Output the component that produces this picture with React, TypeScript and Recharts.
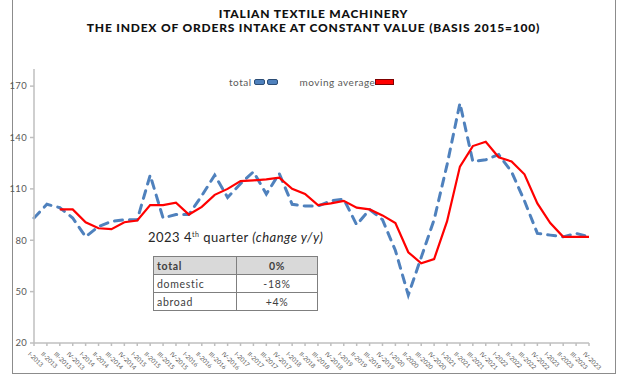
import { Legend, Line, LineChart, XAxis, YAxis } from "recharts";

const quarters = ["I", "II", "III", "IV"];
const years = [2013, 2014, 2015, 2016, 2017, 2018, 2019, 2020, 2021, 2022, 2023];
const categories = years.flatMap((y) => quarters.map((q) => `${q}-${y}`));

const total = [
  93, 101, 99, 93, 82, 88, 91, 92, 92, 118, 93, 95, 95, 106, 118, 105, 113,
  120, 107, 119, 101, 100, 100, 103, 104, 89, 98, 92, 74, 48, 70, 92, 124, 160,
  126, 127, 130, 120, 103, 84, 83, 82, 84, 82,
];

const movingAverage = [
  null, null, 98, 98, 90.5, 87, 86.5, 90.5, 91.5, 100.5, 100.5, 102, 95, 99.5,
  106.5, 110, 114.5, 115, 115.5, 116.5, 110, 107, 100.5, 101.5, 103, 99, 98,
  94.5, 90, 73, 66.5, 69, 91, 123, 135, 137.5, 128.5, 126, 118.5, 101.5, 90, 82,
  82, 82,
];

const yTicks = [20, 50, 80, 110, 140, 170];

const tableRows = [
  { label: "total", value: "0%", head: true },
  { label: "domestic", value: "-18%", head: false },
  { label: "abroad", value: "+4%", head: false },
];

const data = categories.map((name, i) => ({
  name,
  total: total[i],
  avg: movingAverage[i],
}));

const font = "Lato, 'Open Sans', sans-serif";
const gray = "#595959";

const XTick = (props: any) => {
  const { x, y, payload } = props;
  return (
    <g transform={`translate(${x - 3},${y + 3})`}>
      <text
        transform="rotate(45)"
        textAnchor="start"
        dominantBaseline="hanging"
        fontSize={6.2}
        fill={gray}
        fontFamily={font}
      >
        {payload.value}
      </text>
    </g>
  );
};

const swatch = {
  display: "inline-block",
  width: 9,
  height: 4,
  marginLeft: 2,
  background: "#4f81bd",
  border: "1px solid #2c4d75",
  borderRadius: 2,
};

const LegendContent = () => (
  <div
    style={{
      display: "flex",
      alignItems: "center",
      fontFamily: font,
      fontSize: 10,
      letterSpacing: 0.5,
      color: gray,
    }}
  >
    <span>total</span>
    <span style={swatch} />
    <span style={swatch} />
    <span style={{ marginLeft: 22 }}>moving average</span>
    <span
      style={{
        display: "inline-block",
        width: 17,
        height: 4,
        background: "#ff0000",
        border: "1px solid #7f0000",
      }}
    />
  </div>
);

export default function App() {
  return (
    <div
      style={{
        position: "absolute",
        left: 0,
        top: 0,
        width: 627,
        height: 376,
        background: "#fff",
        fontFamily: font,
      }}
    >
      <div
        style={{
          position: "absolute",
          left: 12,
          top: -2,
          width: 602,
          height: 374,
          border: "1.5px solid #8c8c8c",
        }}
      />
      <div
        style={{
          position: "absolute",
          left: 0,
          top: 7,
          width: 627,
          textAlign: "center",
          fontWeight: 900,
          fontSize: 12,
          letterSpacing: 0.8,
          lineHeight: "14px",
          color: "#111",
        }}
      >
        ITALIAN TEXTILE MACHINERY
        <br />
        THE INDEX OF ORDERS INTAKE AT CONSTANT VALUE (BASIS 2015=100)
      </div>
      <div style={{ position: "absolute", left: 0, top: 0 }}>
        <LineChart
          width={627}
          height={376}
          data={data}
          margin={{ top: 57, right: 38, bottom: 0, left: 8 }}
        >
          <XAxis
            dataKey="name"
            interval={0}
            height={33}
            tick={<XTick />}
            tickSize={3}
            stroke="#bfbfbf"
            strokeWidth={1.5}
          />
          <YAxis
            domain={[20, 180]}
            ticks={yTicks}
            width={26}
            tickSize={4}
            tickMargin={3}
            stroke="#bfbfbf"
            strokeWidth={1.5}
            tick={{ fontSize: 9.5, fill: gray, fontFamily: font, letterSpacing: 0.3 }}
          />
          <Legend
            verticalAlign="top"
            content={<LegendContent />}
            wrapperStyle={{ position: "absolute", left: 229, top: 76, width: "auto" }}
          />
          <Line
            dataKey="total"
            stroke="#4f81bd"
            strokeWidth={3}
            strokeDasharray="8 7"
            strokeLinecap="round"
            dot={false}
            isAnimationActive={false}
          />
          <Line
            dataKey="avg"
            stroke="#ff0000"
            strokeWidth={2.2}
            dot={false}
            isAnimationActive={false}
          />
        </LineChart>
      </div>
      <div
        style={{
          position: "absolute",
          left: 148,
          top: 229,
          fontSize: 13,
          letterSpacing: 0.5,
          color: "#262626",
          whiteSpace: "nowrap",
        }}
      >
        2023 4<sup style={{ fontSize: 7 }}>th</sup> quarter{" "}
        <i>(change y/y)</i>
      </div>
      <table
        style={{
          position: "absolute",
          left: 153,
          top: 256,
          width: 165,
          borderCollapse: "collapse",
          fontSize: 10.5,
          color: "#404040",
          letterSpacing: 0.7,
        }}
      >
        <tbody>
          {tableRows.map((r) => (
            <tr
              key={r.label}
              style={{
                height: 18,
                background: r.head ? "#d9d9d9" : "#fff",
                fontWeight: r.head ? 700 : 400,
              }}
            >
              <td
                style={{
                  border: "1px solid #7f7f7f",
                  padding: "0 3px",
                  width: 76,
                }}
              >
                {r.label}
              </td>
              <td
                style={{
                  border: "1px solid #7f7f7f",
                  textAlign: "center",
                  padding: 0,
                }}
              >
                {r.value}
              </td>
            </tr>
          ))}
        </tbody>
      </table>
    </div>
  );
}
